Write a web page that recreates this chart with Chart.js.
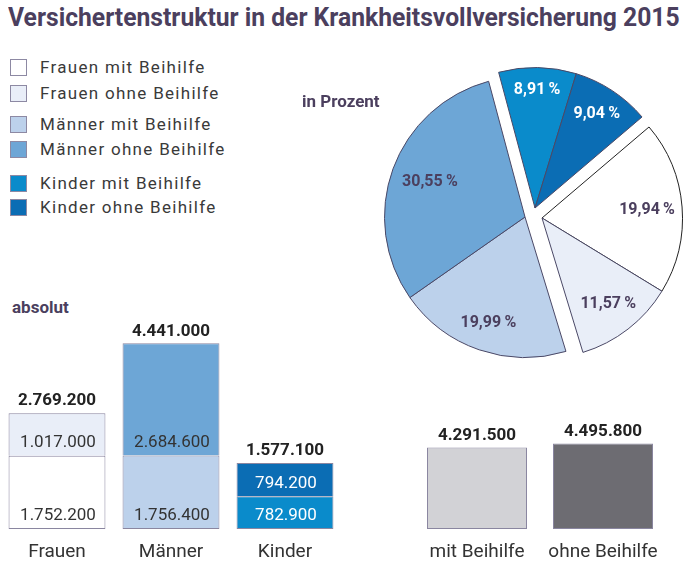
<!DOCTYPE html>
<html><head><meta charset="utf-8">
<script src="https://cdn.jsdelivr.net/npm/chart.js@4/dist/chart.umd.min.js"></script>
<style>
html,body{margin:0;padding:0;background:#fff;width:692px;height:566px;overflow:hidden;position:relative;font-family:Roboto,sans-serif}
#title{position:absolute;left:8px;top:2px;font:bold 26px Roboto,sans-serif;color:#4b3f5e;white-space:nowrap;transform-origin:0 0}
.leg{position:absolute;left:10px;height:18px;display:flex;align-items:center;font-size:17px;color:#3a3a3a;letter-spacing:1.3px;white-space:nowrap}
.leg i{display:inline-block;width:15px;height:15px;border:1px solid #8d89a3;margin-right:13px;box-sizing:content-box}
.sub{position:absolute;font:bold 17px Roboto,sans-serif;color:#4b3f5e;white-space:nowrap}
canvas{position:absolute}
</style></head><body>
<div id="title">Versichertenstruktur in der Krankheitsvollversicherung 2015</div>
<div id="legend"></div>
<canvas id="pie" width="337" height="340" style="left:355px;top:47px"></canvas>
<canvas id="bars" width="342" height="246" style="left:0px;top:320px"></canvas>
<canvas id="bars2" width="252" height="246" style="left:414px;top:320px"></canvas>
<div class="sub" style="left:302px;top:91px">in Prozent</div>
<div class="sub" style="left:12px;top:297px">absolut</div>
<script>
// ---- data ----
const legendLabels = ['Frauen mit Beihilfe','Frauen ohne Beihilfe','Männer mit Beihilfe','Männer ohne Beihilfe','Kinder mit Beihilfe','Kinder ohne Beihilfe'];
const categories = ['Frauen','Männer','Kinder'];
const mitValues = [1752200, 1756400, 782900];
const ohneValues = [1017000, 2684600, 794200];
const totals = [2769200, 4441000, 1577100];
const beihilfeCategories = ['mit Beihilfe','ohne Beihilfe'];
const beihilfeValues = [4291500, 4495800];
const pieLabels = ['Kinder mit Beihilfe','Kinder ohne Beihilfe','Frauen mit Beihilfe','Frauen ohne Beihilfe','Männer mit Beihilfe','Männer ohne Beihilfe'];
const pieValues = [8.91, 9.04, 19.94, 11.57, 19.99, 30.55];

// ---- title fit ----
const t = document.getElementById('title');
t.style.transform = 'scaleX(' + (672 / t.offsetWidth) + ')';

// ---- styles ----
const col = {
  'Frauen mit Beihilfe':'#ffffff','Frauen ohne Beihilfe':'#e9eef8',
  'Männer mit Beihilfe':'#bcd1eb','Männer ohne Beihilfe':'#6da6d6',
  'Kinder mit Beihilfe':'#0a8bcb','Kinder ohne Beihilfe':'#0b6db4'
};
const legendTops = [58, 84, 115, 140, 174, 198];
const legend = document.getElementById('legend');
legendLabels.forEach((l,i)=>{
  const d = document.createElement('div'); d.className='leg'; d.style.top = legendTops[i]+'px';
  d.innerHTML = '<i style="background:'+col[l]+'"></i>'+l; legend.appendChild(d);
});
const fmt = n => String(n).replace(/\B(?=(\d{3})+(?!\d))/g, '.');
const pct = v => v.toFixed(2).replace('.', ',') + '\u2009%';
const edge = '#8a86a0';

// ---- pie ----
const groupShift = {Kinder:[10,-9], Frauen:[17,1], 'Männer':[0,0]};
const labelRadius = [0.84, 0.8, 0.75, 0.77, 0.8, 0.72];
const pieShift = {
  id:'pieShift',
  afterDatasetUpdate(chart, args){
    args.meta.data.forEach((el,i)=>{
      const g = pieLabels[i].split(' ')[0]; const s = groupShift[g];
      el.x += s[0]; el.y += s[1];
    });
  },
  afterDatasetsDraw(chart){
    const ctx = chart.ctx; const meta = chart.getDatasetMeta(0);
    ctx.save(); ctx.font = 'bold 16px Roboto, sans-serif'; ctx.textAlign='center'; ctx.textBaseline='middle';
    meta.data.forEach((el,i)=>{
      const mid = (el.startAngle+el.endAngle)/2; const r = el.outerRadius*labelRadius[i];
      ctx.fillStyle = pieLabels[i].startsWith('Kinder') ? '#ffffff' : '#4b3f5e';
      ctx.fillText(pct(pieValues[i]), el.x+Math.cos(mid)*r, el.y+Math.sin(mid)*r);
    });
    ctx.restore();
  }
};
new Chart(document.getElementById('pie'), {
  type:'pie',
  data:{labels:pieLabels, datasets:[{data:pieValues, backgroundColor:pieLabels.map(l=>col[l]),
    borderColor:pieLabels.map(l=>l==='Frauen mit Beihilfe'?'#222':'#4a4866'), borderWidth:1}]},
  options:{responsive:false, animation:false, rotation:-15,
    layout:{padding:{left:29,right:26,top:29,bottom:29}},
    plugins:{legend:{display:false}, tooltip:{enabled:false}}},
  plugins:[pieShift]
});

// ---- bar labels ----
function barLabels(inner){
  return {
    id:'barLabels',
    afterDatasetsDraw(chart){
      const ctx = chart.ctx; ctx.save(); ctx.textAlign='center'; ctx.textBaseline='middle';
      const n = chart.data.datasets.length;
      if (inner){
        chart.data.datasets.forEach((ds,d)=>{
          chart.getDatasetMeta(d).data.forEach((el,i)=>{
            ctx.font = '17px Roboto, sans-serif';
            ctx.fillStyle = i===2 ? '#ffffff' : '#333333';
            ctx.fillText(fmt(ds.data[i]), el.x+1, el.base-13);
          });
        });
      }
      const topMeta = chart.getDatasetMeta(n-1);
      topMeta.data.forEach((el,i)=>{
        ctx.font = 'bold 17px Roboto, sans-serif'; ctx.fillStyle = '#222222';
        ctx.fillText(fmt(inner ? totals[i] : chart.data.datasets[0].data[i]), el.x, el.y-12);
      });
      // category labels from the x scale
      const xs = chart.scales.x;
      ctx.font = '19px Roboto, sans-serif'; ctx.fillStyle = '#333333';
      chart.data.labels.forEach((lab,i)=>{
        ctx.fillText(lab, xs.getPixelForValue(i), chart.chartArea.bottom + 23);
      });
      ctx.restore();
    }
  };
}
const xAxis = {stacked:true, display:false};

new Chart(document.getElementById('bars'), {
  type:'bar',
  data:{labels:categories, datasets:[
    {data:mitValues, backgroundColor:[col['Frauen mit Beihilfe'],col['Männer mit Beihilfe'],col['Kinder mit Beihilfe']],
      borderColor:edge, borderWidth:1, borderSkipped:false},
    {data:ohneValues, backgroundColor:[col['Frauen ohne Beihilfe'],col['Männer ohne Beihilfe'],col['Kinder ohne Beihilfe']],
      borderColor:edge, borderWidth:{top:1,left:1,right:1,bottom:0}, borderSkipped:false}
  ]},
  options:{responsive:false, animation:false,
    layout:{padding:{top:0,left:0,right:0,bottom:37}},
    datasets:{bar:{categoryPercentage:1, barPercentage:0.85}},
    scales:{x:xAxis, y:{stacked:true, display:false, min:0, max:5000000}},
    plugins:{legend:{display:false}, tooltip:{enabled:false}}},
  plugins:[barLabels(true)]
});

new Chart(document.getElementById('bars2'), {
  type:'bar',
  data:{labels:beihilfeCategories, datasets:[
    {data:beihilfeValues, backgroundColor:['#d2d2d6','#6d6c72'], borderColor:edge, borderWidth:1, borderSkipped:false}
  ]},
  options:{responsive:false, animation:false,
    layout:{padding:{top:0,left:0,right:0,bottom:37}},
    datasets:{bar:{categoryPercentage:1, barPercentage:0.794}},
    scales:{x:{display:false}, y:{display:false, min:0, max:11000000}},
    plugins:{legend:{display:false}, tooltip:{enabled:false}}},
  plugins:[barLabels(false)]
});
</script>
</body></html>
